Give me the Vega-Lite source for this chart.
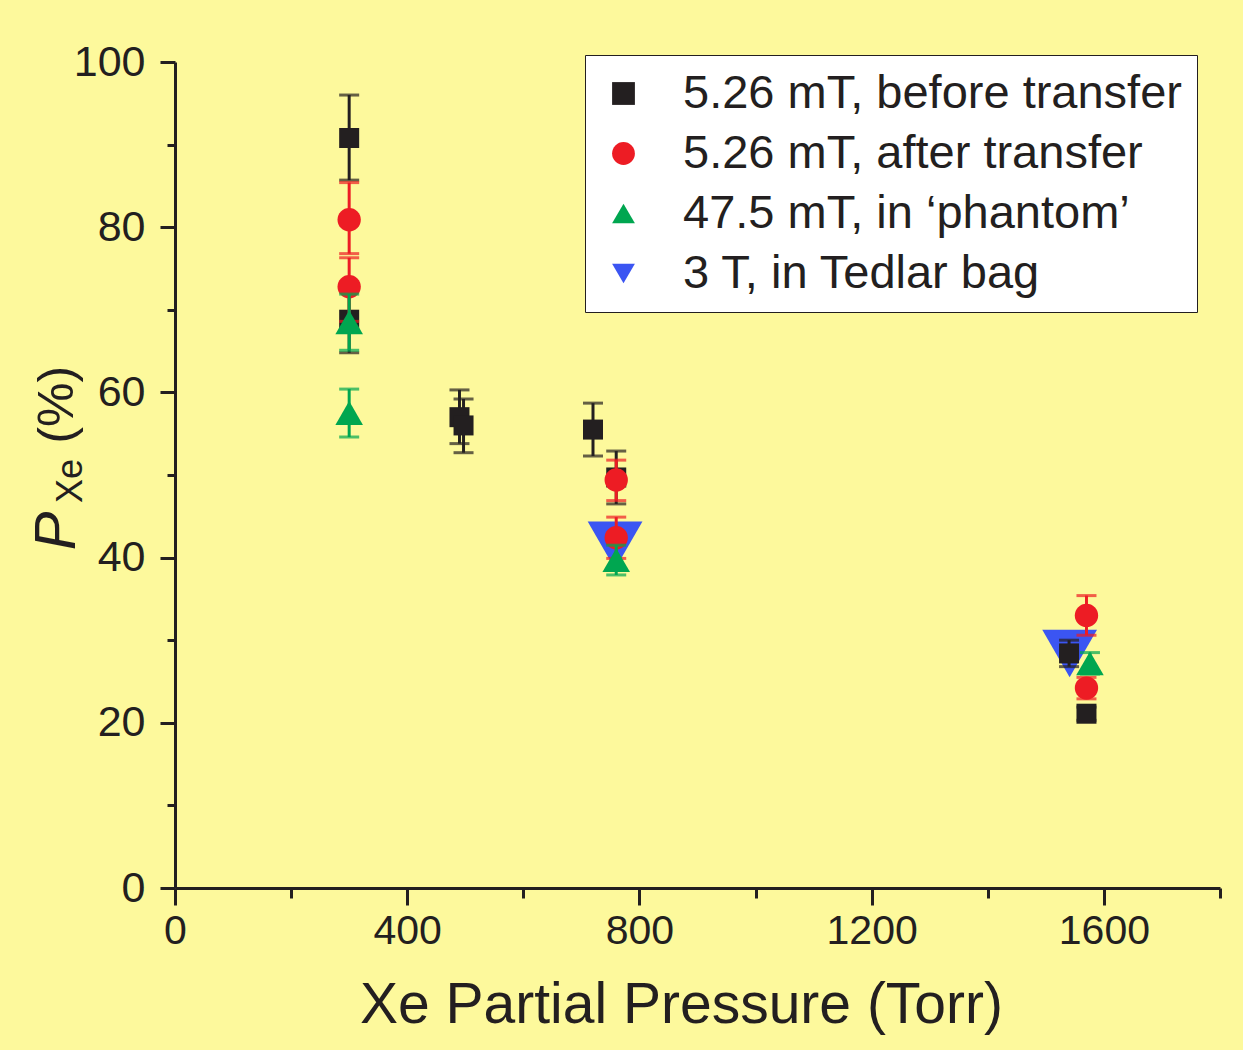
{
  "$schema": "https://vega.github.io/schema/vega-lite/v6.json",
  "autosize": {"type": "none"},
  "width": 1045,
  "height": 826,
  "padding": {"left": 175, "top": 62, "right": 23, "bottom": 162},
  "background": "#fdf99c",
  "config": {
    "view": {"stroke": null, "fill": "#fdf99c"},
    "font": "Liberation Sans",
    "axis": {
      "domainColor": "#231f20",
      "domainWidth": 3,
      "tickColor": "#231f20",
      "tickWidth": 3,
      "labelColor": "#231f20",
      "labelFont": "Liberation Sans",
      "labelFontSize": 41,
      "titleFont": "Liberation Sans",
      "titleColor": "#231f20",
      "titleFontWeight": "normal",
      "grid": false,
      "labelOverlap": false,
      "labelFlush": false
    },
    "axisY": {"labelFontSize": 43},
    "legend": {
      "labelFont": "Liberation Sans",
      "labelFontSize": 47,
      "labelColor": "#231f20",
      "labelLimit": 0
    }
  },
  "datasets": {
    "pts": [
      {"series": "3 T, in Tedlar bag", "x": 758, "y": 41.5, "lo": 41.5, "hi": 41.5},
      {"series": "3 T, in Tedlar bag", "x": 1541, "y": 28.4, "lo": 28.4, "hi": 28.4},
      {"series": "5.26 mT, before transfer", "x": 300, "y": 90.8, "lo": 85.7, "hi": 96.0},
      {"series": "5.26 mT, before transfer", "x": 300, "y": 68.8, "lo": 64.8, "hi": 72.6},
      {"series": "5.26 mT, before transfer", "x": 490, "y": 57.0, "lo": 53.8, "hi": 60.3},
      {"series": "5.26 mT, before transfer", "x": 497, "y": 56.0, "lo": 52.7, "hi": 59.2},
      {"series": "5.26 mT, before transfer", "x": 720, "y": 55.5, "lo": 52.3, "hi": 58.7},
      {"series": "5.26 mT, before transfer", "x": 760, "y": 49.7, "lo": 46.5, "hi": 52.9},
      {"series": "5.26 mT, before transfer", "x": 1540, "y": 28.4, "lo": 26.8, "hi": 30.0},
      {"series": "5.26 mT, before transfer", "x": 1570, "y": 21.1, "lo": 20.3, "hi": 21.9},
      {"series": "5.26 mT, after transfer", "x": 300, "y": 80.9, "lo": 76.8, "hi": 85.4},
      {"series": "5.26 mT, after transfer", "x": 300, "y": 72.8, "lo": 68.6, "hi": 76.3},
      {"series": "5.26 mT, after transfer", "x": 760, "y": 49.4, "lo": 46.9, "hi": 51.8},
      {"series": "5.26 mT, after transfer", "x": 760, "y": 42.4, "lo": 39.9, "hi": 44.9},
      {"series": "5.26 mT, after transfer", "x": 1570, "y": 33.0, "lo": 30.6, "hi": 35.4},
      {"series": "5.26 mT, after transfer", "x": 1570, "y": 24.2, "lo": 22.9, "hi": 25.5},
      {"series": "47.5 mT, in ‘phantom’", "x": 300, "y": 68.5, "lo": 65.1, "hi": 71.9},
      {"series": "47.5 mT, in ‘phantom’", "x": 300, "y": 57.5, "lo": 54.6, "hi": 60.4},
      {"series": "47.5 mT, in ‘phantom’", "x": 760, "y": 39.7, "lo": 37.9, "hi": 41.5},
      {"series": "47.5 mT, in ‘phantom’", "x": 1576, "y": 27.2, "lo": 25.9, "hi": 28.5}
    ],
    "ytitle": [
      {"t": "P", "part": "main"},
      {"t": "Xe", "part": "sub"},
      {"t": "(%)", "part": "unit"}
    ]
  },
  "layer": [
    {
      "data": {"name": "pts"},
      "transform": [{"filter": "datum.series === '3 T, in Tedlar bag'"}],
      "mark": {"type": "point", "filled": true, "opacity": 1, "strokeWidth": 0, "size": 3000},
      "encoding": {
        "x": {
          "field": "x",
          "type": "quantitative",
          "title": "Xe Partial Pressure (Torr)",
          "scale": {"domain": [0, 1800], "nice": false, "zero": false},
          "axis": {
            "values": [0, 200, 400, 600, 800, 1000, 1200, 1400, 1600, 1800],
            "labelExpr": "datum.value % 400 === 0 ? datum.label : ''",
            "format": "d",
            "tickSize": {"condition": {"test": "datum.value % 400 === 0", "value": 17}, "value": 10},
            "labelPadding": 6,
            "titleFontSize": 57,
            "titlePadding": 26,
            "titleX": 506
          }
        },
        "y": {
          "field": "y",
          "type": "quantitative",
          "title": null,
          "scale": {"domain": [0, 100], "nice": false},
          "axis": {
            "values": [0, 10, 20, 30, 40, 50, 60, 70, 80, 90, 100],
            "labelExpr": "datum.value % 20 === 0 ? datum.label : ''",
            "tickSize": {"condition": {"test": "datum.value % 20 === 0", "value": 15}, "value": 8},
            "labelPadding": 15
          }
        },
        "color": {
          "field": "series",
          "type": "nominal",
          "scale": {
            "domain": ["5.26 mT, before transfer", "5.26 mT, after transfer", "47.5 mT, in ‘phantom’", "3 T, in Tedlar bag"],
            "range": ["#231f20", "#ed1c24", "#00a650", "#3b55f2"]
          },
          "legend": {
            "title": null,
            "orient": "none",
            "legendX": 410,
            "legendY": -7,
            "padding": 15,
            "fillColor": "#ffffff",
            "strokeColor": "#231f20",
            "symbolSize": 520,
            "symbolStrokeWidth": 0,
            "labelOffset": 36,
            "rowPadding": 12
          }
        },
        "shape": {
          "field": "series",
          "type": "nominal",
          "scale": {
            "domain": ["5.26 mT, before transfer", "5.26 mT, after transfer", "47.5 mT, in ‘phantom’", "3 T, in Tedlar bag"],
            "range": ["square", "circle", "triangle-up", "triangle-down"]
          },
          "legend": {
            "title": null,
            "orient": "none",
            "legendX": 410,
            "legendY": -7,
            "padding": 15,
            "fillColor": "#ffffff",
            "strokeColor": "#231f20",
            "symbolSize": 520,
            "symbolStrokeWidth": 0,
            "labelOffset": 36,
            "rowPadding": 12
          }
        }
      }
    },
    {
      "data": {"name": "pts"},
      "transform": [{"filter": "datum.series === '5.26 mT, before transfer'"}],
      "mark": {"type": "errorbar", "ticks": {"size": 20, "thickness": 3}, "rule": {"strokeWidth": 3}},
      "encoding": {
        "x": {"field": "x", "type": "quantitative"},
        "y": {"field": "lo", "type": "quantitative", "title": null},
        "y2": {"field": "hi"},
        "color": {"field": "series", "type": "nominal"}
      }
    },
    {
      "data": {"name": "pts"},
      "transform": [{"filter": "datum.series === '5.26 mT, before transfer'"}],
      "mark": {"type": "point", "filled": true, "opacity": 1, "strokeWidth": 0, "size": 400},
      "encoding": {
        "x": {"field": "x", "type": "quantitative"},
        "y": {"field": "y", "type": "quantitative", "title": null},
        "color": {"field": "series", "type": "nominal"},
        "shape": {"field": "series", "type": "nominal"}
      }
    },
    {
      "data": {"name": "pts"},
      "transform": [{"filter": "datum.series === '5.26 mT, after transfer'"}],
      "mark": {"type": "errorbar", "ticks": {"size": 20, "thickness": 3}, "rule": {"strokeWidth": 3}},
      "encoding": {
        "x": {"field": "x", "type": "quantitative"},
        "y": {"field": "lo", "type": "quantitative", "title": null},
        "y2": {"field": "hi"},
        "color": {"field": "series", "type": "nominal"}
      }
    },
    {
      "data": {"name": "pts"},
      "transform": [{"filter": "datum.series === '5.26 mT, after transfer'"}],
      "mark": {"type": "point", "filled": true, "opacity": 1, "strokeWidth": 0, "size": 545},
      "encoding": {
        "x": {"field": "x", "type": "quantitative"},
        "y": {"field": "y", "type": "quantitative", "title": null},
        "color": {"field": "series", "type": "nominal"},
        "shape": {"field": "series", "type": "nominal"}
      }
    },
    {
      "data": {"name": "pts"},
      "transform": [{"filter": "datum.series === '47.5 mT, in ‘phantom’'"}],
      "mark": {"type": "errorbar", "ticks": {"size": 20, "thickness": 3}, "rule": {"strokeWidth": 3}},
      "encoding": {
        "x": {"field": "x", "type": "quantitative"},
        "y": {"field": "lo", "type": "quantitative", "title": null},
        "y2": {"field": "hi"},
        "color": {"field": "series", "type": "nominal"}
      }
    },
    {
      "data": {"name": "pts"},
      "transform": [{"filter": "datum.series === '47.5 mT, in ‘phantom’'"}],
      "mark": {"type": "point", "filled": true, "opacity": 1, "strokeWidth": 0, "size": 760},
      "encoding": {
        "x": {"field": "x", "type": "quantitative"},
        "y": {"field": "y", "type": "quantitative", "title": null},
        "color": {"field": "series", "type": "nominal"},
        "shape": {"field": "series", "type": "nominal"}
      }
    },
    {
      "data": {"name": "ytitle"},
      "transform": [{"filter": "datum.part === 'main'"}],
      "mark": {"type": "text", "angle": 270, "align": "left", "baseline": "alphabetic", "fontStyle": "italic", "fontSize": 58, "font": "Liberation Sans", "color": "#231f20"},
      "encoding": {
        "x": {"datum": -172},
        "y": {"datum": 40.9},
        "text": {"field": "t"}
      }
    },
    {
      "data": {"name": "ytitle"},
      "transform": [{"filter": "datum.part === 'sub'"}],
      "mark": {"type": "text", "angle": 270, "align": "left", "baseline": "alphabetic", "fontSize": 36, "font": "Liberation Sans", "color": "#231f20"},
      "encoding": {
        "x": {"datum": -160},
        "y": {"datum": 46.6},
        "text": {"field": "t"}
      }
    },
    {
      "data": {"name": "ytitle"},
      "transform": [{"filter": "datum.part === 'unit'"}],
      "mark": {"type": "text", "angle": 270, "align": "left", "baseline": "alphabetic", "fontSize": 50, "font": "Liberation Sans", "color": "#231f20"},
      "encoding": {
        "x": {"datum": -175},
        "y": {"datum": 53.8},
        "text": {"field": "t"}
      }
    }
  ]
}
